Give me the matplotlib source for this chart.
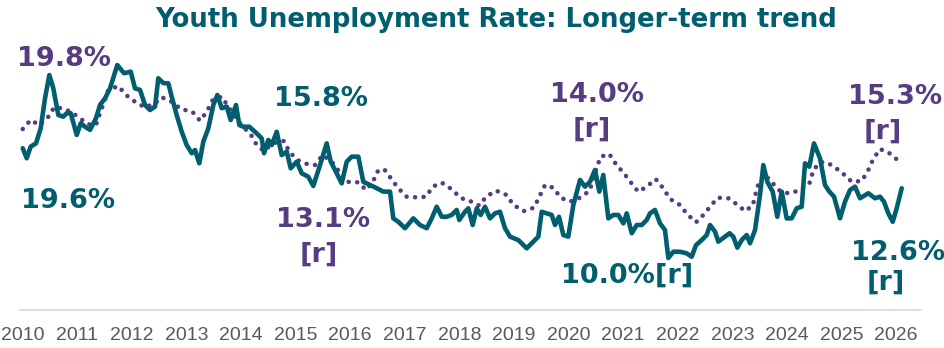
import matplotlib
matplotlib.use("Agg")
import matplotlib.pyplot as plt

# Monthly youth unemployment rate (%), dates as decimal years
rate_dates = [
    2010.004, 2010.077, 2010.150, 2010.247, 2010.333, 2010.412, 2010.491, 2010.564,
    2010.656, 2010.747, 2010.810, 2010.883, 2010.993, 2011.066, 2011.145, 2011.236,
    2011.346, 2011.419, 2011.511, 2011.603, 2011.736, 2011.859, 2011.982, 2012.060,
    2012.152, 2012.244, 2012.335, 2012.427, 2012.487, 2012.579, 2012.670, 2012.733,
    2012.824, 2012.916, 2013.007, 2013.099, 2013.159, 2013.238, 2013.311, 2013.403,
    2013.495, 2013.568, 2013.648, 2013.740, 2013.813, 2013.910, 2013.971, 2014.044,
    2014.154, 2014.289, 2014.381, 2014.423, 2014.502, 2014.564, 2014.656, 2014.747,
    2014.839, 2014.912, 2015.022, 2015.114, 2015.234, 2015.326, 2015.449, 2015.571,
    2015.645, 2015.755, 2015.846, 2015.938, 2016.029, 2016.150, 2016.242, 2016.364,
    2016.487, 2016.608, 2016.731, 2016.791, 2016.883, 2017.005, 2017.158, 2017.280,
    2017.403, 2017.495, 2017.586, 2017.678, 2017.769, 2017.861, 2017.952, 2018.000,
    2018.104, 2018.165, 2018.245, 2018.319, 2018.392, 2018.471, 2018.562, 2018.654,
    2018.745, 2018.837, 2018.929, 2019.081, 2019.234, 2019.355, 2019.447, 2019.509,
    2019.601, 2019.692, 2019.753, 2019.826, 2019.905, 2019.996, 2020.088, 2020.211,
    2020.302, 2020.394, 2020.485, 2020.564, 2020.637, 2020.729, 2020.821, 2020.912,
    2021.004, 2021.066, 2021.158, 2021.249, 2021.341, 2021.432, 2021.493, 2021.584,
    2021.676, 2021.767, 2021.828, 2021.920, 2022.042, 2022.165, 2022.256, 2022.335,
    2022.440, 2022.531, 2022.592, 2022.683, 2022.744, 2022.867, 2022.949, 2023.018,
    2023.092, 2023.172, 2023.264, 2023.324, 2023.416, 2023.507, 2023.568, 2023.641,
    2023.740, 2023.824, 2023.905, 2023.996, 2024.088, 2024.179, 2024.271, 2024.332,
    2024.410, 2024.496, 2024.606, 2024.698, 2024.777, 2024.863, 2024.973, 2025.064,
    2025.156, 2025.247, 2025.339, 2025.491, 2025.614, 2025.705, 2025.778, 2025.857,
    2025.938, 2026.011, 2026.103,
]
rate_values = [
    15.46, 14.96, 15.54, 15.70, 16.45, 17.94, 19.10, 18.44,
    17.11, 17.03, 17.20, 17.20, 16.12, 16.70, 16.53, 16.37,
    16.95, 17.61, 17.94, 18.44, 19.60, 19.19, 19.27, 18.44,
    18.36, 17.61, 17.36, 17.53, 18.94, 18.70, 18.69, 18.02,
    17.11, 16.28, 15.62, 15.21, 15.37, 14.71, 15.78, 16.45,
    17.61, 18.11, 17.45, 17.53, 16.86, 17.61, 16.61, 16.53,
    16.53, 16.20, 15.95, 15.21, 15.87, 15.62, 16.28, 15.12,
    15.29, 14.46, 14.79, 14.21, 14.04, 13.58, 14.62, 15.70,
    14.79, 14.21, 13.71, 14.79, 15.04, 15.04, 13.79, 13.63,
    13.47, 13.30, 13.30, 11.97, 11.80, 11.48, 11.97, 11.64,
    11.48, 11.97, 12.55, 12.05, 12.05, 12.14, 12.39, 11.89,
    12.30, 12.47, 11.64, 12.47, 12.14, 12.55, 11.97, 12.22,
    12.30, 11.48, 11.06, 10.89, 10.48, 10.81, 11.06, 12.30,
    12.22, 12.14, 11.64, 12.05, 11.14, 11.06, 12.63, 13.88,
    13.55, 13.79, 14.38, 13.30, 14.13, 11.97, 12.14, 12.14,
    11.72, 12.22, 11.23, 11.64, 11.64, 11.89, 12.22, 12.39,
    11.72, 11.39, 10.00, 10.31, 10.31, 10.23, 10.06, 10.64,
    10.89, 11.14, 11.64, 11.31, 10.81, 11.06, 11.23, 11.06,
    10.51, 10.89, 11.14, 10.73, 11.39, 13.13, 14.62, 13.79,
    13.30, 12.05, 13.30, 11.97, 11.97, 12.47, 12.55, 14.71,
    14.54, 15.70, 14.96, 13.63, 13.30, 13.05, 11.97, 12.80,
    13.38, 13.55, 12.97, 13.22, 12.97, 13.05, 12.80, 12.22,
    11.80, 12.47, 13.47,
]

# Longer-term trend series (%), dates as decimal years
trend_dates = [
    2010.004, 2010.150, 2010.308, 2010.462, 2010.582, 2010.718, 2010.883, 2011.053,
    2011.205, 2011.346, 2011.419, 2011.498, 2011.571, 2011.755, 2011.896, 2012.073,
    2012.244, 2012.427, 2012.549, 2012.733, 2012.897, 2013.110, 2013.251, 2013.374,
    2013.484, 2013.648, 2013.769, 2013.892, 2014.033, 2014.179, 2014.289, 2014.423,
    2014.582, 2014.789, 2014.886, 2015.033, 2015.234, 2015.357, 2015.498, 2015.663,
    2015.802, 2015.925, 2016.150, 2016.291, 2016.414, 2016.498, 2016.621, 2016.883,
    2017.037, 2017.220, 2017.390, 2017.513, 2017.678, 2017.861, 2018.026, 2018.196,
    2018.366, 2018.489, 2018.672, 2018.868, 2018.989, 2019.185, 2019.368, 2019.465,
    2019.570, 2019.722, 2019.857, 2020.027, 2020.211, 2020.381, 2020.454, 2020.516,
    2020.590, 2020.747, 2020.870, 2021.016, 2021.145, 2021.278, 2021.432, 2021.597,
    2021.736, 2021.859, 2022.042, 2022.176, 2022.335, 2022.469, 2022.592, 2022.733,
    2022.927, 2023.081, 2023.233, 2023.374, 2023.429, 2023.489, 2023.599, 2023.740,
    2023.886, 2024.044, 2024.253, 2024.423, 2024.484, 2024.606, 2024.716, 2024.850,
    2025.022, 2025.187, 2025.370, 2025.491, 2025.582, 2025.705, 2025.857, 2026.040,
]
trend_values = [
    16.13, 16.90, 16.47, 17.10, 17.98, 17.90, 17.61, 17.04,
    16.53, 16.47, 17.47, 18.46, 19.46, 19.80, 19.03, 18.41,
    17.98, 18.32, 18.84, 18.46, 17.84, 17.61, 16.84, 17.61,
    18.61, 18.89, 18.03, 17.18, 16.33, 15.68, 14.77, 14.25,
    14.91, 15.11, 14.19, 13.49, 13.10, 13.06, 13.91, 13.34,
    12.49, 11.63, 11.58, 10.93, 11.58, 12.49, 12.72, 11.07,
    10.35, 10.30, 10.35, 11.21, 11.55, 10.99, 10.24, 9.99,
    9.59, 10.35, 10.87, 10.50, 9.65, 9.13, 9.42, 10.35,
    11.35, 11.12, 10.27, 9.93, 10.27, 10.84, 11.78, 12.83,
    13.77, 14.00, 13.12, 12.35, 11.55, 10.78, 11.21, 11.86,
    11.07, 10.16, 9.65, 8.85, 8.17, 8.79, 9.50, 10.27,
    10.22, 9.71, 9.13, 9.59, 10.64, 11.63, 12.21, 11.50,
    10.78, 10.64, 10.93, 11.58, 12.63, 13.29, 13.29, 12.97,
    12.35, 11.63, 11.69, 12.63, 13.57, 14.42, 14.14, 13.43,
]

year_ticks = list(range(2010, 2027))
year_labels = [str(y) for y in year_ticks]

TEAL = "#005E6E"
PURPLE = "#563D82"
GREY_TEXT = "#595959"
GREY_LINE = "#D9D9D9"

W, H = 945, 348
fig = plt.figure(figsize=(W / 100, H / 100), dpi=100)
fig.patch.set_facecolor("white")

left_px, right_px, top_px, bottom_px = 20, 921, 40, 310
ax = fig.add_axes([left_px / W, 1 - bottom_px / H,
                   (right_px - left_px) / W, (bottom_px - top_px) / H])
ax2 = ax.twinx()

for a in (ax, ax2):
    a.set_facecolor("none")
    for side in ("top", "right", "left"):
        a.spines[side].set_visible(False)
    a.set_yticks([])
ax2.spines["bottom"].set_visible(False)
ax.spines["bottom"].set_color(GREY_LINE)
ax.spines["bottom"].set_linewidth(1.2)

ax.set_xlim(2009.954, 2026.456)
ax.set_ylim(7.411, 20.844)
ax2.set_ylim(0.687, 23.725)

ax.set_xticks(year_ticks)
ax.set_xticklabels(year_labels)
ax.tick_params(axis="x", length=0, pad=12, colors=GREY_TEXT, labelsize=14)
for lbl in ax.get_xticklabels():
    lbl.set_family(["Liberation Sans", "DejaVu Sans"])

ax2.plot(trend_dates, trend_values, color=PURPLE, linewidth=3.3,
         linestyle=(0, (0.01, 1.85)), dash_capstyle="round", zorder=2)
ax.plot(rate_dates, rate_values, color=TEAL, linewidth=3.3,
        solid_joinstyle="round", solid_capstyle="round", zorder=3)
ax.set_zorder(ax2.get_zorder() + 1)

bold = dict(fontsize=19.5, fontweight="bold", family="DejaVu Sans",
            ha="center", va="baseline", clip_on=False)

# Labels for the unemployment rate
ax.text(2010.830, 12.47, "19.6%", color=TEAL, **bold)
ax.text(2015.476, 17.56, "15.8%", color=TEAL, **bold)
ax.text(2021.071, 8.75, "10.0%[r]", color=TEAL, **bold)
ax.text(2026.035, 9.90, "12.6%", color=TEAL, **bold)
ax.text(2025.811, 8.42, "[r]", color=TEAL, **bold)

# Labels for the trend series
ax2.text(2010.764, 21.51, "19.8%", color=PURPLE, **bold)
ax2.text(2015.504, 7.79, "13.1%", color=PURPLE, **bold)
ax2.text(2015.421, 4.83, "[r]", color=PURPLE, **bold)
ax2.text(2020.513, 18.46, "14.0%", color=PURPLE, **bold)
ax2.text(2020.421, 15.50, "[r]", color=PURPLE, **bold)
ax2.text(2025.980, 18.26, "15.3%", color=PURPLE, **bold)
ax2.text(2025.755, 15.30, "[r]", color=PURPLE, **bold)

fig.text(496 / W, 1 - 27 / H, "Youth Unemployment Rate: Longer-term trend",
         color=TEAL, fontsize=18.7, fontweight="bold", family="DejaVu Sans",
         ha="center", va="baseline")

fig.savefig("out.png", dpi=100, facecolor="white")
